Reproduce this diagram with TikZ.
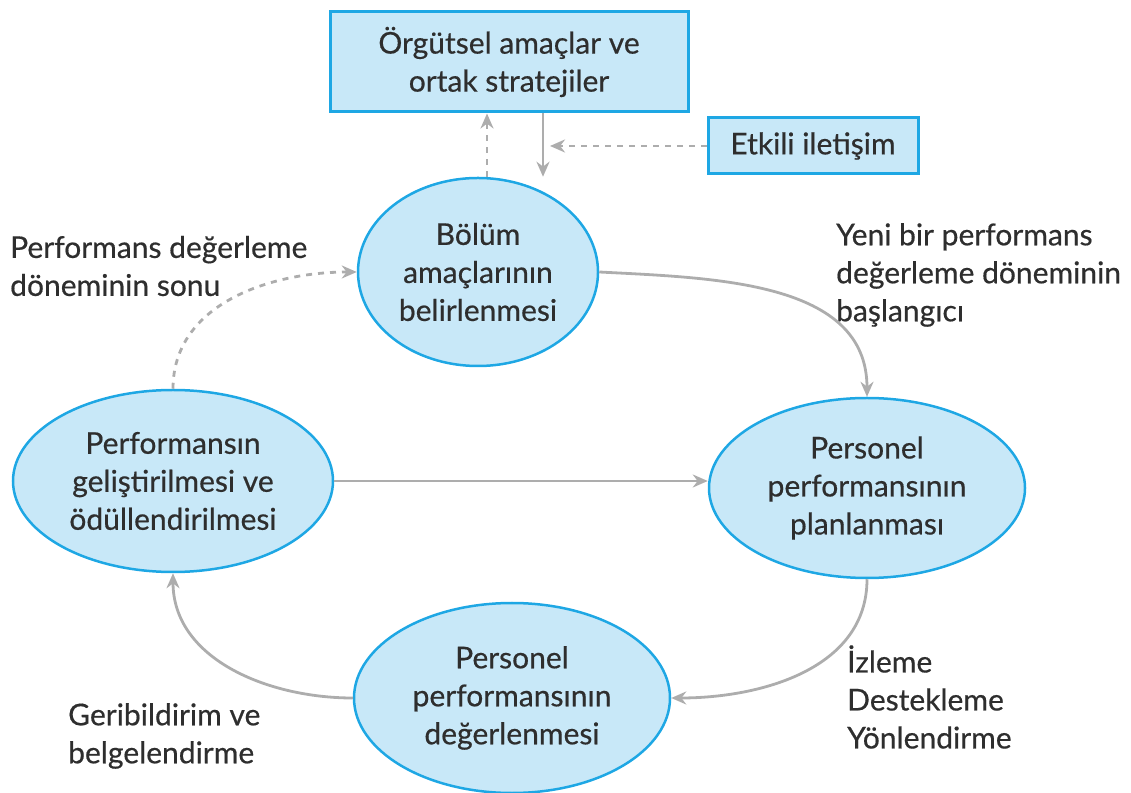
\documentclass[tikz,border=0pt]{standalone}
\usepackage{fontspec}
\newfontfamily\diagfont[FakeBold=0.5]{Lato}
\usetikzlibrary{shapes.geometric,arrows.meta}
\definecolor{fillb}{HTML}{C8E8F8}
\definecolor{edgeb}{HTML}{1EA7E4}
\definecolor{arr}{HTML}{ADADAD}
\definecolor{txt}{HTML}{2E2E2E}
\tikzset{
  every node/.style={text=txt,font=\diagfont\fontsize{30}{38}\selectfont},
  oval/.style={ellipse,draw=edgeb,fill=fillb,line width=2.5pt,inner sep=0pt,align=center},
  rbox/.style={rectangle,draw=edgeb,fill=fillb,line width=3pt,inner sep=0pt,align=center},
  lab/.style={align=left,anchor=west,inner sep=0pt},
  conn/.style={draw=arr,line width=2.8pt,-{Stealth[length=15pt,width=13pt]}},
  dconn/.style={conn,dash pattern=on 6pt off 6pt}
}
\begin{document}
\begin{tikzpicture}[x=1pt,y=1pt]
\useasboundingbox (0,0) rectangle (1131,792);
\node[rbox,minimum width=358pt,minimum height=100pt] (org) at (509,730) {Örgütsel amaçlar ve\\ortak stratejiler};
\node[rbox,minimum width=210pt,minimum height=56pt] (etk) at (813,646) {Etkili iletişim};
\node[oval,minimum width=240pt,minimum height=188pt] (top) at (478,520) {Bölüm\\amaçlarının\\belirlenmesi};
\node[oval,minimum width=316pt,minimum height=180pt] (right) at (867,304) {Personel\\performansının\\planlanması};
\node[oval,minimum width=320pt,minimum height=182pt] (left) at (173,311) {Performansın\\geliştirilmesi ve\\ödüllendirilmesi};
\node[oval,minimum width=316pt,minimum height=190pt] (bot) at (512,94) {Personel\\performansının\\değerlenmesi};
\node[lab] (l1) at (10,526) {Performans değerleme\\döneminin sonu};
\node[lab] (l2) at (836,517) {Yeni bir performans\\değerleme döneminin\\başlangıcı};
\node[lab] (l3) at (847,95) {İzleme\\Destekleme\\Yönlendirme};
\node[lab] (l4) at (68,56) {Geribildirim ve\\belgelendirme};
\coordinate (a1) at (543,0);
\coordinate (a2) at (487,0);
\coordinate (a3) at (550,0);
\draw[conn] (org.south -| a1) -- (top.north -| a1);
\draw[dconn] (top.north -| a2) -- (org.south -| a2);
\draw[dconn] (etk.west) -- (etk.west -| a3);
\draw[conn] (top.east) to[out=-3,in=90] (right.north);
\draw[conn] (left.east) -- (left.east -| right.west);
\draw[conn] (right.south) to[out=-90,in=0] (bot.east);
\draw[conn] (bot.west) to[out=180,in=-90] (left.south);
\draw[dconn] (left.north) to[out=90,in=180] (top.west);
\end{tikzpicture}
\end{document}
